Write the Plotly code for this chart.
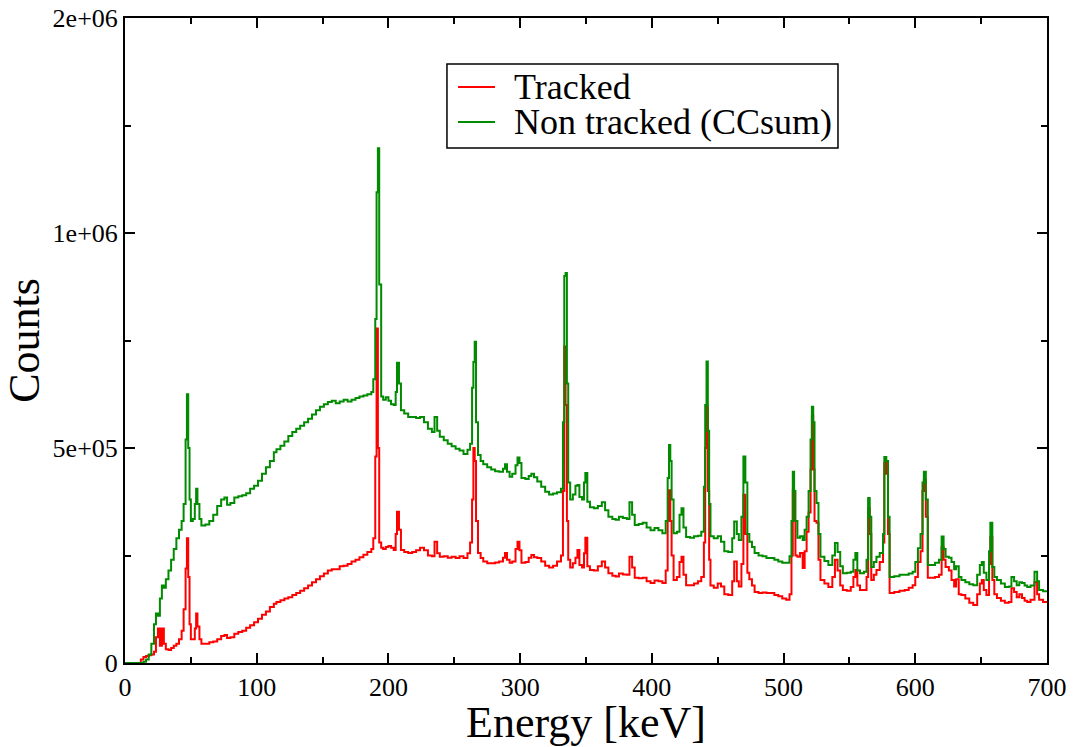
import plotly.graph_objects as go

# Energy bin starts [keV]
energy = [
    0, 10, 12, 14, 16, 18, 20, 22, 23.5, 25,
    26.5, 28, 29.5, 31, 33, 35, 37, 39, 41, 43,
    44.5, 46, 47, 48, 49, 50, 51.5, 53, 54, 55,
    56.5, 58, 61, 64, 67, 70, 73, 75.5, 77.5, 80,
    83, 86, 89, 92, 95, 98, 101, 104, 107, 110,
    113, 115, 118, 121, 124, 127, 130, 133, 136, 139,
    142, 145, 148, 151, 154, 157, 160, 163, 166, 169,
    172, 175, 178, 181, 184, 187, 188.5, 190, 191, 192,
    193, 194.5, 196, 198, 200, 202, 204, 205.5, 206.5, 208,
    209.5, 212, 215, 218, 221, 224, 227, 230, 233, 235,
    237, 239, 242, 245, 248, 251, 254, 257, 260, 262,
    263.5, 264.5, 265.5, 266.5, 268, 270, 272, 275, 278, 281,
    284, 287, 288.5, 290, 292, 294, 296.5, 298, 299.5, 301,
    304, 306.5, 308.5, 310.5, 313, 316, 319, 322, 325, 328,
    331, 332.5, 333.5, 334.5, 335.5, 336.5, 338, 340, 342, 343.5,
    345, 347, 348.5, 349.5, 351, 353, 356, 359, 362, 364.5,
    367, 370, 372.5, 375, 378, 381, 383, 385, 387, 390,
    393, 396, 399, 402, 405, 408, 410.5, 412, 413, 414,
    415, 416.5, 419, 421, 422.5, 424, 426, 429, 432, 435,
    437.5, 439.5, 440.5, 441.5, 442.5, 443.5, 444.5, 447, 450, 452.5,
    455, 458, 461, 462.5, 464.5, 466, 468, 469.5, 471, 472.5,
    474, 476, 478, 481, 484, 487, 490, 493, 496, 499,
    502, 504.5, 506, 507, 508, 509, 510.5, 512.5, 514.5, 516,
    517.5, 519, 520.5, 521.5, 522.5, 523.5, 525, 526.5, 528, 531,
    534, 537, 539, 541, 543, 545, 548, 551, 553, 554.5,
    556, 558, 561, 563, 564.2, 565.4, 566.6, 568.5, 570.5, 573,
    575.5, 576.5, 578, 579.3, 580.5, 584, 588, 592, 595, 598,
    600, 602, 604, 605.5, 606.5, 608, 609.5, 612, 615, 618,
    620, 621.5, 623, 625.5, 627.5, 629.5, 631, 633, 635, 638,
    641, 644, 647, 649, 650.5, 652, 654, 656, 657, 658.5,
    660, 662, 665, 668, 671, 673, 675, 677, 679, 681,
    683, 685, 687.5, 690.5, 692.5, 694, 697, 700,
]

# Counts, in thousands
tracked_k = [
    0, 0, 8, 14, 16, 18, 20, 26, 60, 80,
    40, 80, 45, 32, 30, 35, 40, 45, 55, 75,
    125, 220, 290, 200, 90, 55, 55, 80, 115, 85,
    55, 45, 45, 48, 50, 55, 63, 65, 58, 60,
    68, 72, 75, 82, 88, 95, 103, 112, 120, 130,
    138, 142, 146, 150, 153, 158, 163, 168, 174, 180,
    188, 195, 202, 208, 215, 218, 218, 225, 226, 230,
    236, 240, 246, 252, 258, 265, 290, 480, 778, 500,
    280, 268, 265, 270, 272, 268, 263, 300, 352, 310,
    263, 258, 256, 258, 262, 268, 262, 250, 248, 282,
    255, 247, 248, 245, 247, 244, 248, 244, 255, 280,
    380, 500, 470, 330, 256, 244, 236, 232, 232, 234,
    236, 245, 256, 240, 233, 236, 265, 282, 262, 233,
    235, 245, 251, 246, 244, 236, 226, 222, 226, 236,
    250, 400, 736, 600, 330, 240, 222, 232, 245, 263,
    228, 222, 255, 291, 225, 216, 215, 225, 236, 222,
    209, 203, 201, 208, 206, 205, 247, 222, 198, 197,
    198, 190, 186, 192, 190, 186, 215, 330, 402, 330,
    250, 193, 200, 235, 247, 205, 181, 181, 185, 190,
    200, 280, 500, 596, 400, 240, 180, 175, 185, 178,
    160, 158, 190, 236, 190, 178, 230, 391, 300, 210,
    195, 180, 165, 163, 164, 163, 163, 158, 155, 150,
    147, 160, 250, 402, 330, 250, 247, 256, 221, 260,
    305, 350, 450, 575, 450, 330, 326, 240, 193, 185,
    177, 200, 240, 215, 180, 170, 168, 177, 200, 216,
    180, 170, 170, 200, 360, 300, 193, 205, 216, 235,
    280, 465, 440, 300, 163, 165, 168, 170, 175, 181,
    200, 235, 260, 400, 426, 340, 198, 198, 200, 205,
    270, 240, 223, 215, 193, 178, 195, 160, 158, 150,
    140, 135, 160, 185, 193, 170, 158, 230, 293, 193,
    160, 151, 145, 140, 142, 174, 165, 153, 160, 151,
    145, 142, 147, 188, 160, 147, 142, 140,
]

ccsum_k = [
    0, 0, 0, 3, 8, 20, 45, 90, 115, 110,
    150, 180, 175, 195, 215, 240, 265, 290, 310, 330,
    370, 520, 625, 500, 380, 330, 335, 370, 405, 370,
    335, 320, 322, 330, 345, 365, 380, 385, 368, 372,
    385, 388, 390, 395, 405, 412, 424, 440, 455, 470,
    490, 497, 505, 515, 528, 537, 545, 552, 560, 568,
    578, 588, 596, 602, 607, 610, 604, 608, 612, 608,
    612, 616, 620, 622, 625, 630, 660, 800, 1095, 1197,
    880, 620, 612, 618, 610, 602, 600, 630, 698, 650,
    588, 580, 572, 572, 570, 572, 560, 545, 537, 572,
    540, 526, 518, 510, 504, 498, 494, 486, 496, 510,
    640, 700, 747, 560, 484, 470, 462, 455, 450, 446,
    445, 452, 462, 445, 433, 440, 460, 478, 465, 430,
    428, 435, 440, 432, 422, 410, 398, 392, 394, 397,
    405, 560, 900, 907, 650, 420, 380, 392, 412, 414,
    386, 380, 420, 442, 375, 362, 360, 365, 374, 355,
    340, 335, 333, 340, 337, 335, 374, 345, 321, 323,
    326, 315, 309, 314, 309, 302, 330, 430, 507, 470,
    380, 302, 305, 345, 360, 315, 293, 291, 295, 296,
    305, 410, 600, 701, 540, 370, 295, 290, 295, 282,
    260, 258, 290, 329, 300, 286, 340, 480, 420, 300,
    282, 270, 256, 250, 248, 244, 244, 240, 236, 233,
    233, 248, 330, 445, 400, 330, 291, 295, 286, 310,
    340, 400, 520, 596, 560, 400, 372, 300, 247, 237,
    228, 250, 279, 258, 225, 209, 210, 212, 240, 256,
    215, 209, 212, 240, 384, 340, 223, 235, 247, 256,
    300, 479, 470, 340, 200, 202, 205, 205, 208, 212,
    235, 267, 300, 420, 445, 380, 228, 228, 233, 240,
    294, 265, 247, 245, 235, 218, 225, 200, 193, 188,
    183, 181, 205, 228, 235, 210, 193, 260, 326, 223,
    200, 193, 185, 177, 178, 200, 190, 181, 188, 186,
    180, 177, 180, 212, 190, 170, 167, 165,
]

series_names = ["Tracked", "Non tracked (CCsum)"]
series_colors = ["#ff0000", "#008b00"]

y_tick_values = [0, 500000, 1000000, 1500000]
y_tick_labels = ["0", "5e+05", "1e+06", "2e+06"]
x_tick_values = [0, 100, 200, 300, 400, 500, 600, 700]

FONT = "Liberation Serif, Times New Roman, serif"

fig = go.Figure()
for name, color, vals in zip(series_names, series_colors, [tracked_k, ccsum_k]):
    fig.add_trace(go.Scatter(
        x=energy, y=[v * 1000 for v in vals], mode="lines",
        line=dict(color=color, width=2, shape="hv"), name=name))

axis_common = dict(
    showline=True, linecolor="black", linewidth=2, mirror="ticks",
    ticks="inside", ticklen=10, tickwidth=1.5, tickcolor="black",
    showgrid=False, zeroline=False, automargin=False,
    tickfont=dict(family=FONT, size=26, color="black"),
)

# Legend drawn as a boxed key (paper coordinates), matching the xmgrace style
leg_x0, leg_x1, leg_y0, leg_y1 = 0.3492, 0.7733, 0.7984, 0.9287
line_x0, line_x1, text_x = 0.3612, 0.4013, 0.4200
entry_y = [0.893, 0.8388]

shapes = [dict(type="rect", xref="paper", yref="paper",
               x0=leg_x0, x1=leg_x1, y0=leg_y0, y1=leg_y1,
               line=dict(color="black", width=1.5), fillcolor="white", layer="above")]
annotations = []
for name, color, ey in zip(series_names, series_colors, entry_y):
    shapes.append(dict(type="line", xref="paper", yref="paper",
                       x0=line_x0, x1=line_x1, y0=ey, y1=ey,
                       line=dict(color=color, width=2), layer="above"))
    annotations.append(dict(xref="paper", yref="paper", x=text_x, y=ey,
                            xanchor="left", yanchor="middle", showarrow=False,
                            text=name, font=dict(family=FONT, size=36, color="black")))

fig.update_layout(
    width=1075, height=747,
    margin=dict(l=125, r=28, t=18, b=84, autoexpand=False),
    paper_bgcolor="white", plot_bgcolor="white",
    font=dict(family=FONT, color="black"),
    showlegend=False,
    shapes=shapes,
    annotations=annotations,
    xaxis=dict(
        range=[0, 700], tickvals=x_tick_values,
        minor=dict(dtick=50, tick0=0, ticks="inside", ticklen=6, tickwidth=1.5, tickcolor="black"),
        title=dict(text="Energy [keV]", font=dict(family=FONT, size=44, color="black"), standoff=6),
        **axis_common,
    ),
    yaxis=dict(
        range=[0, 1500000], tickvals=y_tick_values, ticktext=y_tick_labels,
        minor=dict(dtick=250000, tick0=0, ticks="inside", ticklen=6, tickwidth=1.5, tickcolor="black"),
        title=dict(text="Counts", font=dict(family=FONT, size=44, color="black"), standoff=14),
        **axis_common,
    ),
)

fig.write_html("out.html")
